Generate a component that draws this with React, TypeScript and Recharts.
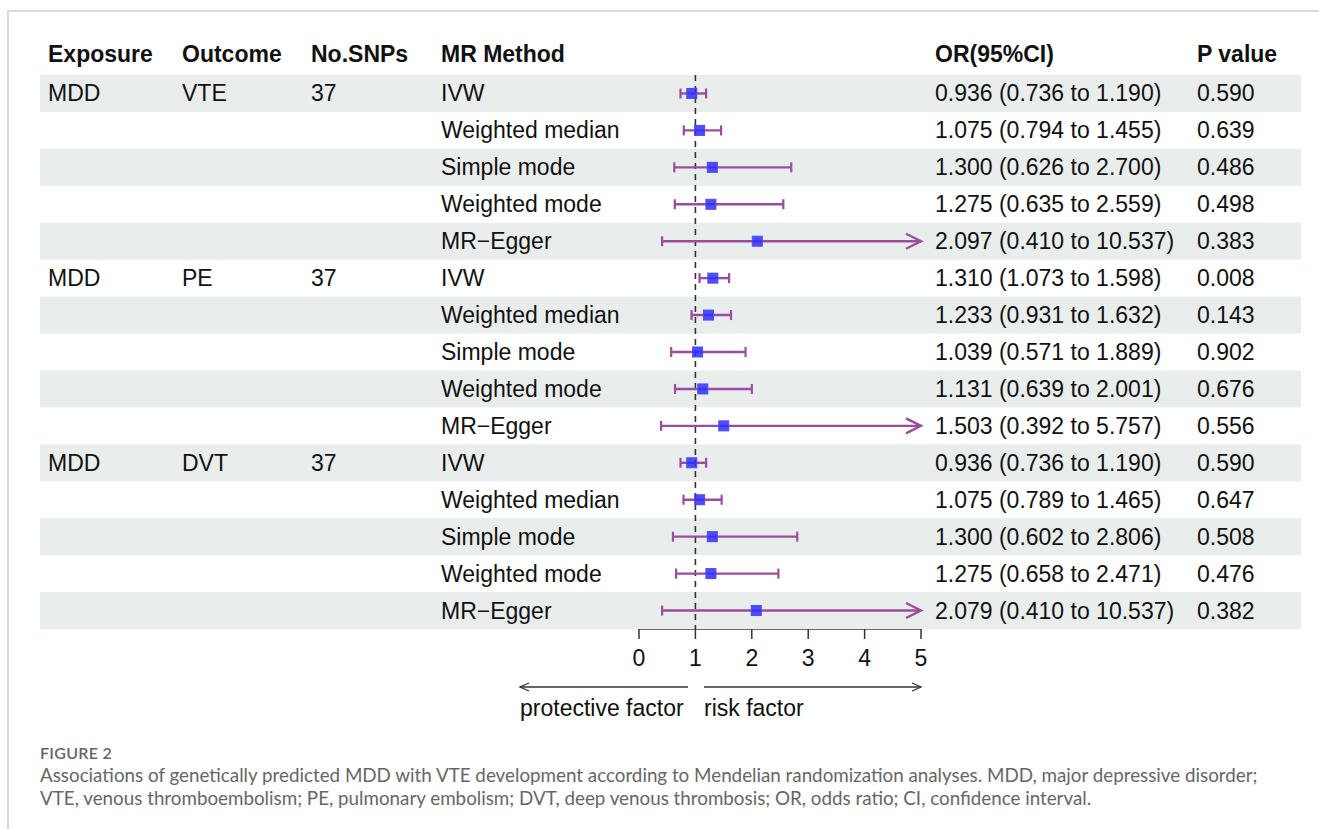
import { ComposedChart, Scatter, XAxis, YAxis } from "recharts";

const exposures = ["MDD", "MDD", "MDD"];
const outcomes = ["VTE", "PE", "DVT"];
const snpCounts = ["37", "37", "37"];
const methods = ["IVW", "Weighted median", "Simple mode", "Weighted mode", "MR\u2212Egger"];

const orValues = [0.936, 1.075, 1.3, 1.275, 2.097, 1.31, 1.233, 1.039, 1.131, 1.503, 0.936, 1.075, 1.3, 1.275, 2.079];
const lowerCI = [0.736, 0.794, 0.626, 0.635, 0.41, 1.073, 0.931, 0.571, 0.639, 0.392, 0.736, 0.789, 0.602, 0.658, 0.41];
const upperCI = [1.19, 1.455, 2.7, 2.559, 10.537, 1.598, 1.632, 1.889, 2.001, 5.757, 1.19, 1.465, 2.806, 2.471, 10.537];
const pValues = ["0.590", "0.639", "0.486", "0.498", "0.383", "0.008", "0.143", "0.902", "0.676", "0.556", "0.590", "0.647", "0.508", "0.476", "0.382"];

const xTicks = [0, 1, 2, 3, 4, 5];
const X_MAX = 5;

const PURPLE = "#9b4c9c";
const FONT = "'Liberation Sans', Arial, Helvetica, sans-serif";

const fmt = (v: number) => v.toFixed(3);

const rows = orValues.map((or, i) => {
  const g = Math.floor(i / methods.length);
  const first = i % methods.length === 0;
  return {
    x: 0,
    y: i + 1,
    idx: i,
    exposure: first ? exposures[g] : "",
    outcome: first ? outcomes[g] : "",
    snps: first ? snpCounts[g] : "",
    method: methods[i % methods.length],
    orText: `${fmt(or)} (${fmt(lowerCI[i])} to ${fmt(upperCI[i])})`,
    p: pValues[i],
  };
});

const points = orValues.map((or, i) => ({ x: or, y: i + 1 }));

const ciSegments = orValues.map((_, i) => [
  { x: lowerCI[i], y: i + 1, end: "cap" },
  { x: Math.min(upperCI[i], X_MAX), y: i + 1, end: upperCI[i] > X_MAX ? "arrow" : "cap" },
]);

const nullLine = [
  { x: 1, y: 0.5 },
  { x: 1, y: orValues.length + 0.5 },
];

const cols = [48, 182, 311, 441, 935, 1197];
const headers = ["Exposure", "Outcome", "No.SNPs", "MR Method", "OR(95%CI)", "P value"];

const RowShape = (props: any) => {
  const { cy, payload } = props;
  const textProps = { y: cy, dominantBaseline: "central", fontSize: 23, fill: "#111", fontFamily: FONT };
  return (
    <g>
      {payload.idx % 2 === 0 && <rect x={40} y={cy - 18.5} width={1261} height={37} fill="#e9eeed" />}
      <text x={cols[0]} {...textProps}>{payload.exposure}</text>
      <text x={cols[1]} {...textProps}>{payload.outcome}</text>
      <text x={cols[2]} {...textProps}>{payload.snps}</text>
      <text x={cols[3]} {...textProps}>{payload.method}</text>
      <text x={cols[4]} {...textProps}>{payload.orText}</text>
      <text x={cols[5]} {...textProps}>{payload.p}</text>
    </g>
  );
};

const EndShape = (props: any) => {
  const { cx, cy, payload } = props;
  if (payload.end === "arrow") {
    return <path d={`M${cx - 15},${cy - 7.5} L${cx},${cy} L${cx - 15},${cy + 7.5}`} fill="none" stroke={PURPLE} strokeWidth={2.4} />;
  }
  return <line x1={cx} x2={cx} y1={cy - 5} y2={cy + 5} stroke={PURPLE} strokeWidth={2.2} />;
};

const SquareShape = (props: any) => {
  const { cx, cy } = props;
  return <rect x={cx - 5} y={cy - 5} width={10} height={10} fill="#2f2ff5" fillOpacity={0.85} stroke="#4a4aff" strokeWidth={1} />;
};

const NoShape = () => <g />;

export default function App() {
  return (
    <div style={{ position: "absolute", left: 0, top: 0, width: 1319, height: 829, background: "#fff", overflow: "hidden" }}>
      <div
        style={{
          position: "absolute",
          left: 7,
          top: 10,
          width: 1312,
          height: 819,
          borderTop: "2px solid #d9d9d9",
          borderLeft: "2px solid #d9d9d9",
          boxSizing: "border-box",
        }}
      />
      <svg width={1319} height={829} style={{ position: "absolute", left: 0, top: 0 }}>
        {headers.map((h, i) => (
          <text key={h} x={cols[i]} y={54} dominantBaseline="central" fontSize={23} fontWeight="bold" fill="#111" fontFamily={FONT}>
            {h}
          </text>
        ))}
        <g stroke="#333" strokeWidth={1.3} fill="none">
          <line x1={520} x2={688} y1={687} y2={687} />
          <path d="M529,683 L520,687 L529,691" />
          <line x1={704} x2={921} y1={687} y2={687} />
          <path d="M912,683 L921,687 L912,691" />
        </g>
        <text x={520} y={708} dominantBaseline="central" fontSize={23} fill="#111" fontFamily={FONT}>
          protective factor
        </text>
        <text x={704} y={708} dominantBaseline="central" fontSize={23} fill="#111" fontFamily={FONT}>
          risk factor
        </text>
      </svg>
      <div style={{ position: "absolute", left: 0, top: 0 }}>
        <ComposedChart width={1319} height={829} margin={{ top: 75, right: 398, bottom: 160, left: 639 }}>
          <XAxis
            type="number"
            dataKey="x"
            domain={[0, X_MAX]}
            ticks={xTicks}
            height={40}
            tickSize={10}
            tickMargin={11}
            stroke="#333"
            strokeWidth={1.5}
            tick={{ fill: "#111", fontSize: 23, fontFamily: FONT }}
            interval={0}
          />
          <YAxis type="number" dataKey="y" domain={[0.5, orValues.length + 0.5]} reversed hide width={0} />
          <Scatter data={rows} shape={RowShape} isAnimationActive={false} />
          <Scatter
            data={nullLine}
            shape={NoShape}
            line={{ stroke: "#333", strokeWidth: 1.6, strokeDasharray: "6 5" }}
            isAnimationActive={false}
          />
          {ciSegments.map((seg, i) => (
            <Scatter
              key={`ci-${i}`}
              data={seg}
              shape={EndShape}
              line={{ stroke: PURPLE, strokeWidth: 2.4 }}
              isAnimationActive={false}
            />
          ))}
          <Scatter data={points} shape={SquareShape} isAnimationActive={false} />
        </ComposedChart>
      </div>
      <div style={{ position: "absolute", left: 40, top: 743, color: "#666", fontFamily: "Lato, 'Open Sans', sans-serif" }}>
        <div style={{ fontSize: 16, fontWeight: 600, letterSpacing: 0.3, lineHeight: "20px" }}>FIGURE 2</div>
        <div style={{ fontSize: 18.8, lineHeight: "23px", width: 1270, whiteSpace: "nowrap" }}>
          Associations of genetically predicted MDD with VTE development according to Mendelian randomization analyses. MDD, major depressive disorder;
          <br />
          VTE, venous thromboembolism; PE, pulmonary embolism; DVT, deep venous thrombosis; OR, odds ratio; CI, confidence interval.
        </div>
      </div>
    </div>
  );
}
